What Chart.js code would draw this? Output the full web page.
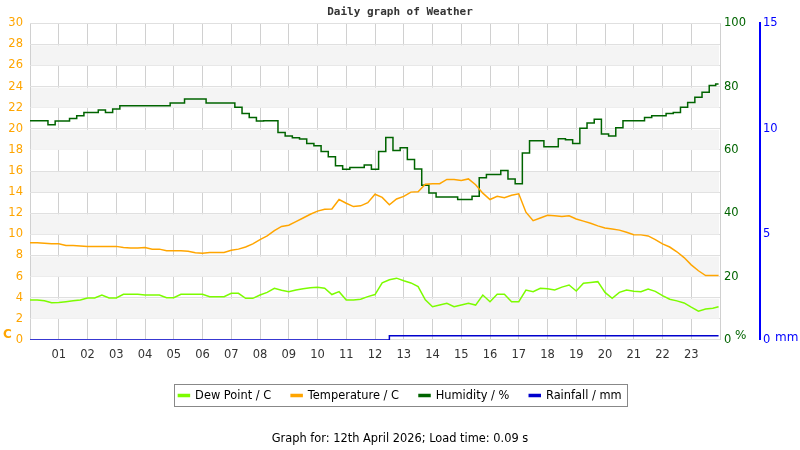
<!DOCTYPE html>
<html>
<head>
<meta charset="utf-8">
<script src="https://cdn.jsdelivr.net/npm/chart.js@4/dist/chart.umd.min.js"></script>
<style>
  html, body { margin: 0; padding: 0; background: #fff; }
  #wrap { width: 800px; height: 450px; }
</style>
</head>
<body>
<div id="wrap"><canvas id="weatherChart"></canvas></div>
<script>
// hours of the day (quarter-hour readings)
var hours = [
  0, 0.25, 0.5, 0.75, 1, 1.25, 1.5, 1.75,
  2, 2.25, 2.5, 2.75, 3, 3.25, 3.5, 3.75,
  4, 4.25, 4.5, 4.75, 5, 5.25, 5.5, 5.75,
  6, 6.25, 6.5, 6.75, 7, 7.25, 7.5, 7.75,
  8, 8.25, 8.5, 8.75, 9, 9.25, 9.5, 9.75,
  10, 10.25, 10.5, 10.75, 11, 11.25, 11.5, 11.75,
  12, 12.25, 12.5, 12.75, 13, 13.25, 13.5, 13.75,
  14, 14.25, 14.5, 14.75, 15, 15.25, 15.5, 15.75,
  16, 16.25, 16.5, 16.75, 17, 17.25, 17.5, 17.75,
  18, 18.25, 18.5, 18.75, 19, 19.25, 19.5, 19.75,
  20, 20.25, 20.5, 20.75, 21, 21.25, 21.5, 21.75,
  22, 22.25, 22.5, 22.75, 23, 23.25, 23.5, 23.75,
  23.95
];

var dewPoint = [
  3.78, 3.78, 3.70, 3.52, 3.55, 3.62, 3.70, 3.78,
  3.97, 3.97, 4.25, 3.97, 3.97, 4.32, 4.32, 4.32,
  4.25, 4.25, 4.25, 4.00, 4.00, 4.32, 4.32, 4.32,
  4.32, 4.10, 4.10, 4.10, 4.41, 4.41, 3.94, 3.94,
  4.25, 4.50, 4.89, 4.70, 4.57, 4.73, 4.85, 4.95,
  4.98, 4.90, 4.30, 4.57, 3.78, 3.78, 3.85, 4.10,
  4.30, 5.40, 5.70, 5.85, 5.60, 5.40, 5.05, 3.80,
  3.14, 3.30, 3.46, 3.14, 3.30, 3.46, 3.30, 4.25,
  3.62, 4.32, 4.32, 3.62, 3.62, 4.73, 4.57, 4.89,
  4.85, 4.73, 5.00, 5.20, 4.63, 5.36, 5.45, 5.52,
  4.50, 3.94, 4.50, 4.73, 4.60, 4.57, 4.83, 4.60,
  4.20, 3.85, 3.70, 3.50, 3.10, 2.73, 2.92, 3.00,
  3.14
];

var temperature = [
  9.20, 9.20, 9.15, 9.10, 9.10, 8.95, 8.95, 8.90,
  8.86, 8.86, 8.86, 8.86, 8.86, 8.75, 8.70, 8.70,
  8.76, 8.60, 8.60, 8.45, 8.45, 8.45, 8.40, 8.25,
  8.22, 8.29, 8.29, 8.29, 8.50, 8.60, 8.80, 9.10,
  9.50, 9.85, 10.35, 10.75, 10.86, 11.20, 11.55, 11.90,
  12.20, 12.38, 12.40, 13.30, 12.95, 12.63, 12.70, 13.00,
  13.80, 13.50, 12.80, 13.35, 13.60, 14.00, 14.03, 14.75,
  14.80, 14.80, 15.20, 15.20, 15.10, 15.25, 14.70, 13.90,
  13.30, 13.60, 13.46, 13.70, 13.84, 12.10, 11.30, 11.55,
  11.80, 11.75, 11.70, 11.75, 11.45, 11.25, 11.05, 10.80,
  10.60, 10.50, 10.40, 10.20, 9.97, 9.95, 9.85, 9.50,
  9.10, 8.80, 8.35, 7.80, 7.11, 6.55, 6.10, 6.10,
  6.10
];

var humidity = [
  69.2, 69.2, 69.2, 67.9, 69.1, 69.1, 69.9, 70.8,
  71.8, 71.8, 72.6, 71.8, 72.9, 73.9, 73.9, 73.9,
  73.9, 73.9, 73.9, 73.9, 74.8, 74.8, 76.1, 76.1,
  76.1, 74.8, 74.8, 74.8, 74.8, 73.5, 71.5, 70.2,
  69.1, 69.2, 69.2, 65.5, 64.4, 63.8, 63.4, 62.0,
  61.3, 59.5, 57.8, 55.0, 53.9, 54.4, 54.4, 55.2,
  53.9, 59.5, 63.9, 59.8, 60.7, 57.0, 54.0, 48.8,
  46.4, 45.1, 45.1, 45.1, 44.3, 44.3, 45.4, 51.2,
  52.2, 52.2, 53.5, 50.8, 49.3, 59.0, 62.9, 62.9,
  61.0, 61.0, 63.5, 63.2, 62.0, 66.8, 68.5, 69.7,
  65.0, 64.4, 67.0, 69.2, 69.2, 69.2, 70.2, 70.8,
  70.8, 71.5, 71.8, 73.5, 75.0, 76.6, 78.2, 80.3,
  80.8
];

var rainfall = [
  0, 0, 0, 0, 0, 0, 0, 0,
  0, 0, 0, 0, 0, 0, 0, 0,
  0, 0, 0, 0, 0, 0, 0, 0,
  0, 0, 0, 0, 0, 0, 0, 0,
  0, 0, 0, 0, 0, 0, 0, 0,
  0, 0, 0, 0, 0, 0, 0, 0,
  0, 0, 0.2, 0.2, 0.2, 0.2, 0.2, 0.2,
  0.2, 0.2, 0.2, 0.2, 0.2, 0.2, 0.2, 0.2,
  0.2, 0.2, 0.2, 0.2, 0.2, 0.2, 0.2, 0.2,
  0.2, 0.2, 0.2, 0.2, 0.2, 0.2, 0.2, 0.2,
  0.2, 0.2, 0.2, 0.2, 0.2, 0.2, 0.2, 0.2,
  0.2, 0.2, 0.2, 0.2, 0.2, 0.2, 0.2, 0.2,
  0.2
];

function points(values) {
  return values.map(function(v, i) { return { x: hours[i], y: v }; });
}

function pad2(v) {
  return (v < 10 ? '0' : '') + v;
}

Chart.defaults.font.family = '"DejaVu Sans", sans-serif';
Chart.defaults.font.size = 11.5;
Chart.defaults.animation = false;

// alternating grey bands behind the plot
var bandsPlugin = {
  id: 'bands',
  beforeDatasetsDraw: function(chart) {
    var ctx = chart.ctx, area = chart.chartArea, y = chart.scales.y;
    ctx.save();
    ctx.fillStyle = '#f4f4f4';
    for (var v = 2; v < 30; v += 4) {
      var top = y.getPixelForValue(v + 2), bot = y.getPixelForValue(v);
      ctx.fillRect(area.left + 1, top + 1, area.right - area.left - 2, bot - top - 1);
    }
    ctx.restore();
  }
};

// unit labels and legend frame
var extrasPlugin = {
  id: 'extras',
  afterDraw: function(chart) {
    var ctx = chart.ctx, area = chart.chartArea;
    ctx.save();
    ctx.textBaseline = 'middle';
    ctx.font = 'bold 12px "DejaVu Sans", sans-serif';
    ctx.fillStyle = '#ffa500';
    ctx.fillText('C', 3, area.bottom - 5);
    ctx.font = '12px "DejaVu Sans", sans-serif';
    ctx.fillStyle = '#006400';
    ctx.fillText('%', area.right + 15, area.bottom - 4);
    ctx.fillStyle = '#0000ff';
    ctx.fillText('mm', chart.scales.yR.left + 15, area.bottom - 2);

    var boxes = chart.legend.legendHitBoxes;
    if (boxes && boxes.length) {
      var l = Infinity, r = -Infinity, t = Infinity, b = -Infinity;
      boxes.forEach(function(h) {
        l = Math.min(l, h.left); r = Math.max(r, h.left + h.width);
        t = Math.min(t, h.top); b = Math.max(b, h.top + h.height);
      });
      ctx.strokeStyle = '#888';
      ctx.lineWidth = 1;
      ctx.strokeRect(Math.round(l - 4) + 0.5, Math.round(t - 6) + 0.5, Math.round(r - l + 10), Math.round(b - t + 11));
    }
    ctx.restore();
  }
};

var ctx = document.getElementById('weatherChart').getContext('2d');
var weatherChart = new Chart(ctx, {
  type: 'line',
  data: {
    datasets: [{
      label: 'Dew Point / C',
      data: points(dewPoint),
      borderColor: '#7cfc00',
      backgroundColor: '#7cfc00',
      borderWidth: 1.5,
      pointRadius: 0,
      yAxisID: 'y'
    }, {
      label: 'Temperature / C',
      data: points(temperature),
      borderColor: '#ffa500',
      backgroundColor: '#ffa500',
      borderWidth: 1.5,
      pointRadius: 0,
      yAxisID: 'y'
    }, {
      label: 'Humidity / %',
      data: points(humidity),
      borderColor: '#006400',
      backgroundColor: '#006400',
      borderWidth: 1.5,
      pointRadius: 0,
      stepped: 'middle',
      yAxisID: 'yH'
    }, {
      label: 'Rainfall / mm',
      data: points(rainfall),
      borderColor: '#0000cd',
      backgroundColor: '#0000cd',
      borderWidth: 1.5,
      pointRadius: 0,
      stepped: 'before',
      yAxisID: 'yR'
    }]
  },
  options: {
    responsive: true,
    maintainAspectRatio: false,
    layout: { padding: 0 },
    plugins: {
      title: {
        display: true,
        text: 'Daily graph of Weather',
        color: '#333',
        font: { family: '"DejaVu Sans Mono", monospace', size: 11, weight: 'bold' },
        padding: { top: 6, bottom: 4 }
      },
      subtitle: {
        display: true,
        position: 'bottom',
        text: 'Graph for: 12th April 2026; Load time: 0.09 s',
        color: '#000',
        font: { size: 11.4 },
        padding: { top: 21, bottom: 4 }
      },
      legend: {
        position: 'bottom',
        labels: {
          color: '#000',
          boxWidth: 11,
          boxHeight: 2,
          padding: 20,
          font: { size: 11.4 }
        }
      },
      tooltip: { enabled: false }
    },
    scales: {
      x: {
        type: 'linear',
        min: 0,
        max: 24,
        ticks: {
          stepSize: 1,
          color: '#333',
          padding: 8,
          autoSkip: false,
          maxRotation: 0,
          callback: function(v) { return (v === 0 || v === 24) ? '' : pad2(v); }
        },
        grid: { color: '#d0d0d0', drawTicks: false },
        border: { display: false },
        afterFit: function(s) { s.height = 30; }
      },
      y: {
        position: 'left',
        min: 0,
        max: 30,
        ticks: { stepSize: 2, color: '#ffa500', padding: 7 },
        grid: { color: '#e0e0e0', drawTicks: false },
        border: { display: false },
        afterFit: function(s) { s.width = 30; }
      },
      yH: {
        position: 'right',
        weight: 1,
        min: 0,
        max: 100,
        ticks: { stepSize: 20, color: '#006400', padding: 4 },
        grid: { display: false, drawTicks: false },
        border: { display: false },
        afterFit: function(s) { s.width = 40; }
      },
      yR: {
        position: 'right',
        weight: 2,
        min: 0,
        max: 15,
        ticks: { stepSize: 5, color: '#0000ff', padding: 3 },
        grid: { display: false, drawTicks: false },
        border: { display: true, color: '#0000ff', width: 2 },
        afterFit: function(s) { s.width = 40; }
      }
    }
  },
  plugins: [bandsPlugin, extrasPlugin]
});
</script>
</body>
</html>
